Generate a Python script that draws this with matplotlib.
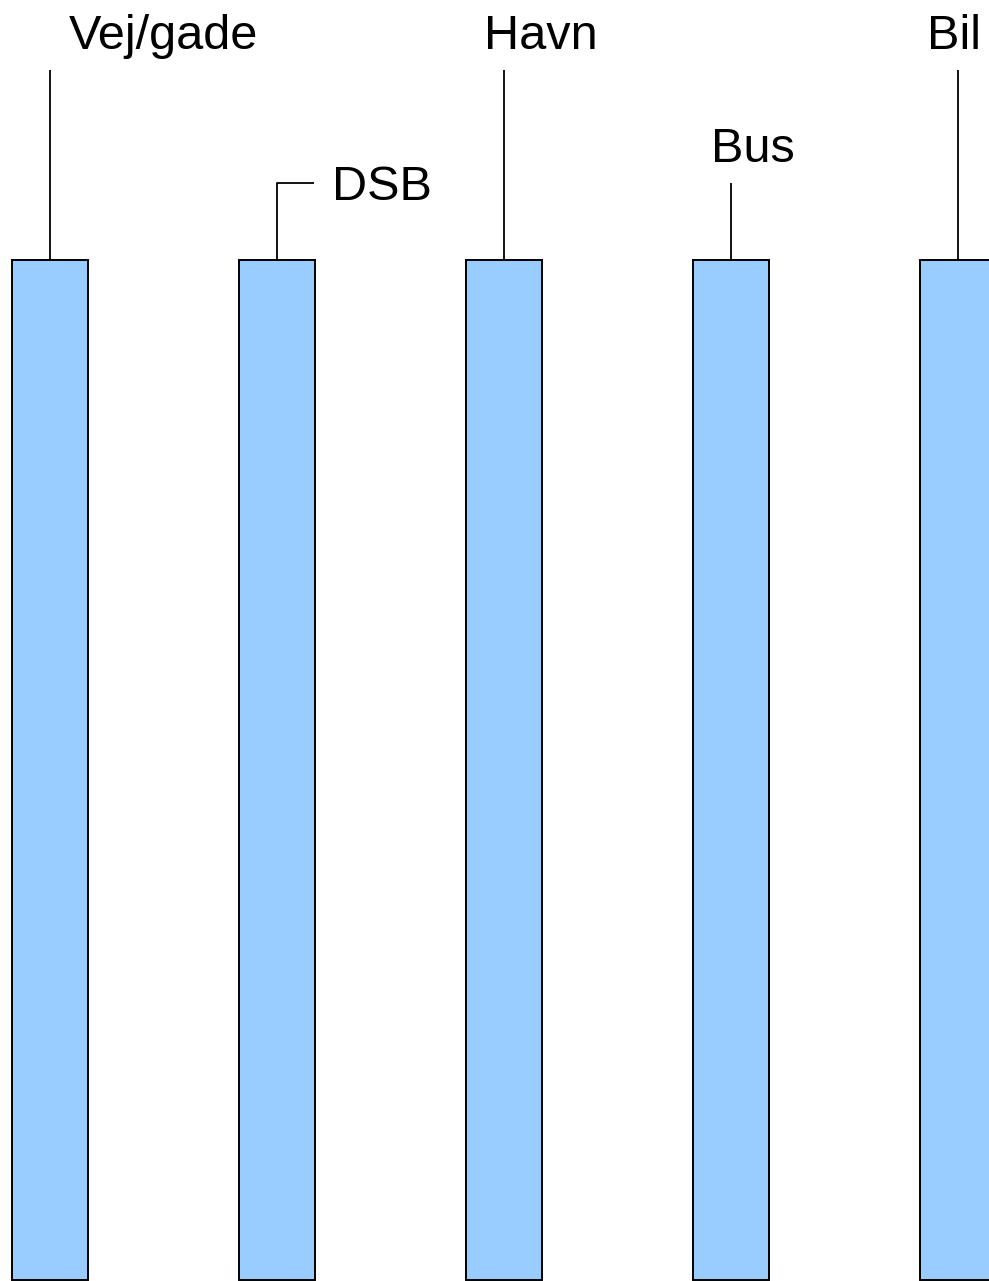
import matplotlib.pyplot as plt

# data
categories = ["Vej/gade", "DSB", "Havn", "Bus", "Bil"]
values = [1.0, 1.0, 1.0, 1.0, 1.0]

W, H, DPI = 989, 1281, 100
BAR_COLOR = "#99CCFF"

fig = plt.figure(figsize=(W / DPI, H / DPI), dpi=DPI)
ax = fig.add_axes([0, 0, 1, 1])

# pixel layout: bar centres 227 px apart, first at x=50, bar top at y=260
px_step = 227.0
px_bar_h = 1020.0
ax.set_xlim(-50 / px_step, (W - 50) / px_step)
ax.set_ylim(-1 / px_bar_h, (H - 1) / px_bar_h)
ax.axis("off")

xs = list(range(len(categories)))
ax.bar(xs, values, width=76 / px_step, color=BAR_COLOR,
       edgecolor="black", linewidth=1.4, align="center")


def dx(px):
    return px / px_step


def dy(px):
    return px / px_bar_h


# label placement: (text dx, text baseline dy, ha, leader top dy, elbow dx)
label_style = {
    "Vej/gade": (113, 211, "center", 190, None),
    "DSB": (55, 60, "left", 77, 37),
    "Havn": (37, 211, "center", 190, None),
    "Bus": (22, 98, "center", 77, None),
    "Bil": (-4, 211, "center", 190, None),
}

for x, v, name in zip(xs, values, categories):
    tx, ty, ha, lead, elbow = label_style[name]
    top = v + dy(lead)
    if elbow is None:
        ax.plot([x, x], [v, top], color="black", lw=1.3, solid_capstyle="butt")
    else:
        ax.plot([x, x, x + dx(elbow)], [v, top, top], color="black", lw=1.3,
                solid_capstyle="butt")
    ax.text(x + dx(tx), v + dy(ty), name, ha=ha, va="baseline",
            fontsize=35, family="Liberation Sans", color="black",
            clip_on=False)

fig.savefig("out.png", dpi=DPI, facecolor="white")
